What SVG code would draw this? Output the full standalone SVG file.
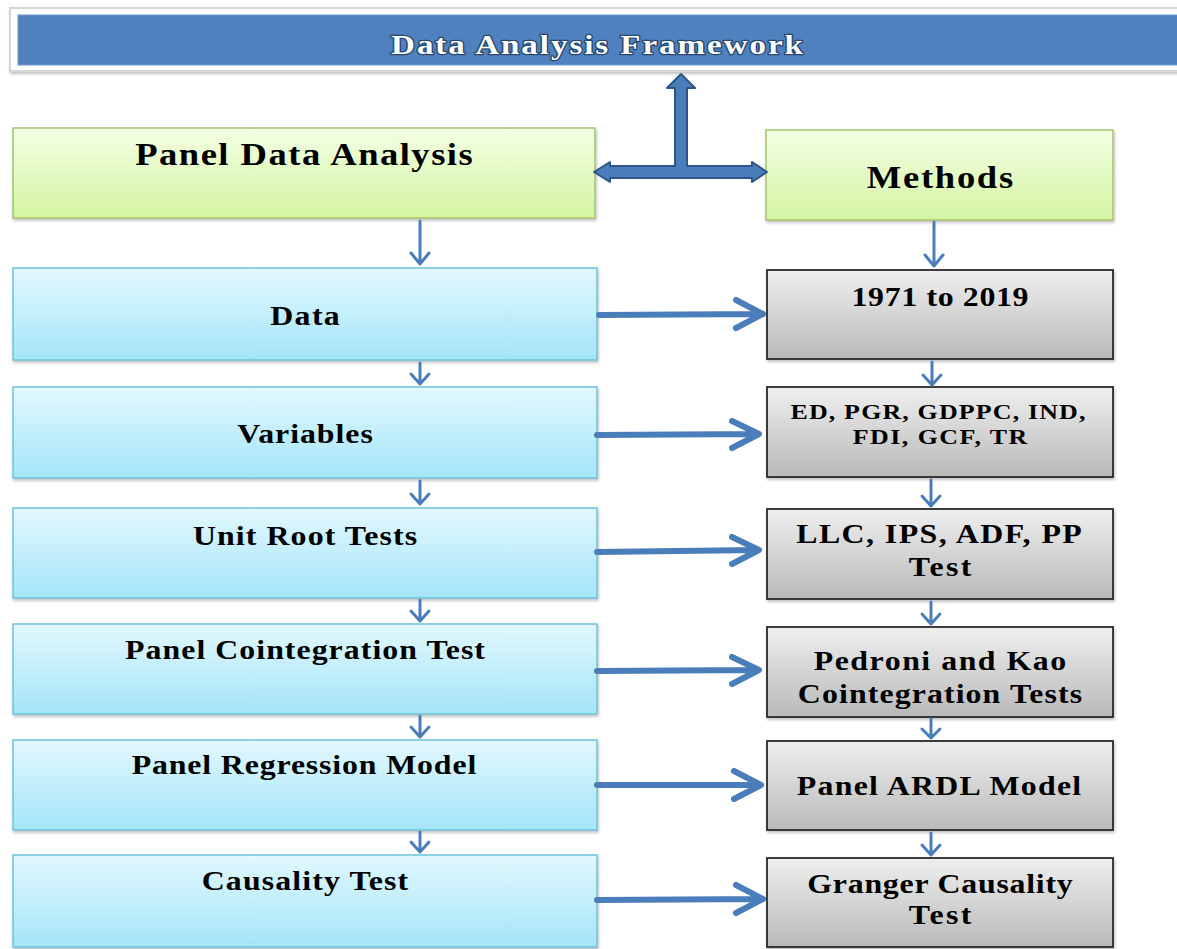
<svg xmlns="http://www.w3.org/2000/svg" width="1177" height="949" viewBox="0 0 1177 949">
<defs>
<linearGradient id="gGreen" x1="0" y1="0" x2="0" y2="1"><stop offset="0" stop-color="#f4ffe4"/><stop offset="1" stop-color="#d4f4a2"/></linearGradient>
<linearGradient id="gCyan" x1="0" y1="0" x2="0" y2="1"><stop offset="0" stop-color="#e2f8fe"/><stop offset="1" stop-color="#a4e5f8"/></linearGradient>
<linearGradient id="gGray" x1="0" y1="0" x2="0" y2="1"><stop offset="0" stop-color="#efefef"/><stop offset="1" stop-color="#b9b9b9"/></linearGradient>
<filter id="sh" x="-5%" y="-5%" width="110%" height="120%"><feDropShadow dx="1" dy="2" stdDeviation="1.5" flood-color="#000" flood-opacity="0.25"/></filter>
</defs>
<style>
.green{fill:url(#gGreen);stroke:#a3c56c;stroke-width:1.5}
.cyan{fill:url(#gCyan);stroke:#6ec2da;stroke-width:1.5}
.gray{fill:url(#gGray);stroke:#2b2b2b;stroke-width:1.8}
.t{font-family:"Liberation Serif","Times New Roman",serif;font-weight:bold;fill:#000;text-anchor:middle}
.big{font-size:31px}
.mid{font-size:27px}
.sm{font-size:22px}
.ar{fill:none;stroke:#4a7ebb;stroke-linecap:round;stroke-linejoin:round}
.h{stroke-width:6}
.v{stroke-width:3}
</style>
<rect width="1177" height="949" fill="#fff"/>
<g id="title">
<rect x="10" y="8" width="1175" height="63" fill="#fff" stroke="#d6d6d6" stroke-width="2" filter="url(#sh)"/>
<rect x="18" y="15" width="1165" height="50" fill="#4e81bd" stroke="#6d99cc" stroke-width="1"/>
<text transform="translate(597,54) scale(1.18,1)" class="t" style="font-size:28px;fill:#fff;stroke:#27466e;stroke-width:2.5;paint-order:stroke;stroke-linejoin:round" textLength="349" lengthAdjust="spacing">Data Analysis Framework</text>
</g>
<g id="panel">
<rect x="13" y="128" width="582" height="90" class="green" filter="url(#sh)"/>
<text transform="translate(304,165) scale(1.18,1)" class="t big" textLength="286" lengthAdjust="spacing">Panel Data Analysis</text>
</g>
<g id="methods">
<rect x="766" y="130" width="347" height="90" class="green" filter="url(#sh)"/>
<text transform="translate(940,188) scale(1.18,1)" class="t big" textLength="124" lengthAdjust="spacing">Methods</text>
</g>
<g id="data">
<rect x="13" y="268" width="584" height="92" class="cyan" filter="url(#sh)"/>
<text transform="translate(305,325) scale(1.18,1)" class="t mid" textLength="59" lengthAdjust="spacing">Data</text>
</g>
<g id="variables">
<rect x="13" y="387" width="584" height="91" class="cyan" filter="url(#sh)"/>
<text transform="translate(305,443) scale(1.18,1)" class="t mid" textLength="115" lengthAdjust="spacing">Variables</text>
</g>
<g id="unitroot">
<rect x="13" y="508" width="584" height="90" class="cyan" filter="url(#sh)"/>
<text transform="translate(305,545) scale(1.18,1)" class="t mid" textLength="190" lengthAdjust="spacing">Unit Root Tests</text>
</g>
<g id="cointegration">
<rect x="13" y="624" width="584" height="90" class="cyan" filter="url(#sh)"/>
<text transform="translate(305,659) scale(1.18,1)" class="t mid" textLength="305" lengthAdjust="spacing">Panel Cointegration Test</text>
</g>
<g id="regression">
<rect x="13" y="740" width="584" height="90" class="cyan" filter="url(#sh)"/>
<text transform="translate(304,774) scale(1.18,1)" class="t mid" textLength="292" lengthAdjust="spacing">Panel Regression Model</text>
</g>
<g id="causality">
<rect x="13" y="855" width="584" height="92" class="cyan" filter="url(#sh)"/>
<text transform="translate(305,890) scale(1.18,1)" class="t mid" textLength="175" lengthAdjust="spacing">Causality Test</text>
</g>
<g id="years">
<rect x="767" y="270" width="346" height="89" class="gray" filter="url(#sh)"/>
<text transform="translate(940,306) scale(1.18,1)" class="t mid" textLength="150" lengthAdjust="spacing">1971 to 2019</text>
</g>
<g id="vars">
<rect x="767" y="387" width="346" height="90" class="gray" filter="url(#sh)"/>
<text transform="translate(938,419) scale(1.18,1)" class="t sm" textLength="250" lengthAdjust="spacing">ED, PGR, GDPPC, IND,</text>
<text transform="translate(940,444) scale(1.18,1)" class="t sm" textLength="148" lengthAdjust="spacing">FDI, GCF, TR</text>
</g>
<g id="llc">
<rect x="767" y="509" width="346" height="90" class="gray" filter="url(#sh)"/>
<text transform="translate(939,543) scale(1.18,1)" class="t mid" textLength="242" lengthAdjust="spacing">LLC, IPS, ADF, PP</text>
<text transform="translate(940,576) scale(1.18,1)" class="t mid" textLength="53" lengthAdjust="spacing">Test</text>
</g>
<g id="pedroni">
<rect x="767" y="627" width="346" height="90" class="gray" filter="url(#sh)"/>
<text transform="translate(940,670) scale(1.18,1)" class="t mid" textLength="214" lengthAdjust="spacing">Pedroni  and Kao</text>
<text transform="translate(940,703) scale(1.18,1)" class="t mid" textLength="241" lengthAdjust="spacing">Cointegration Tests</text>
</g>
<g id="ardl">
<rect x="767" y="741" width="346" height="89" class="gray" filter="url(#sh)"/>
<text transform="translate(939,795) scale(1.18,1)" class="t mid" textLength="241" lengthAdjust="spacing">Panel ARDL Model</text>
</g>
<g id="granger">
<rect x="767" y="858" width="346" height="89" class="gray" filter="url(#sh)"/>
<text transform="translate(940,893) scale(1.18,1)" class="t mid" textLength="225" lengthAdjust="spacing">Granger Causality</text>
<text transform="translate(940,924) scale(1.18,1)" class="t mid" textLength="53" lengthAdjust="spacing">Test</text>
</g>
<g id="connectors">
<path d="M681,74 L695,88 L687,88 L687,166 L752,166 L752,162 L767,172 L752,182 L752,178 L610,178 L610,182 L594,172 L610,162 L610,166 L675,166 L675,88 L667,88 Z" fill="#4a7ebb" stroke="#2c5688" stroke-width="2" stroke-linejoin="round"/>
<g class="ar v">
<path d="M420,221 V264 M411,253 L420,264 L429,253"/>
<path d="M420,363 V384 M411,374 L420,384 L429,374"/>
<path d="M420,481 V504 M411,494 L420,504 L429,494"/>
<path d="M420,600 V621 M411,611 L420,621 L429,611"/>
<path d="M420,716 V737 M411,727 L420,737 L429,727"/>
<path d="M420,832 V852 M411,842 L420,852 L429,842"/>
<path d="M934,222 V266 M925,255 L934,266 L943,255"/>
<path d="M932,362 V385 M923,375 L932,385 L941,375"/>
<path d="M931,480 V506 M922,496 L931,506 L940,496"/>
<path d="M931,602 V624 M922,614 L931,624 L940,614"/>
<path d="M931,719 V738 M922,729 L931,738 L940,729"/>
<path d="M931,833 V855 M922,845 L931,855 L940,845"/>
</g>
<g class="ar h">
<path d="M599,315 L762,314 M736,300 L763,314 L736,328"/>
<path d="M597,435 L758,434 M732,421 L759,434 L732,448"/>
<path d="M597,552 L758,550 M732,537 L759,550 L732,564"/>
<path d="M597,671 L758,670 M732,657 L759,670 L732,684"/>
<path d="M597,785 L760,785 M734,771 L761,785 L734,799"/>
<path d="M597,900 L762,899 M736,885 L763,899 L736,913"/>
</g>
</g>
</svg>
